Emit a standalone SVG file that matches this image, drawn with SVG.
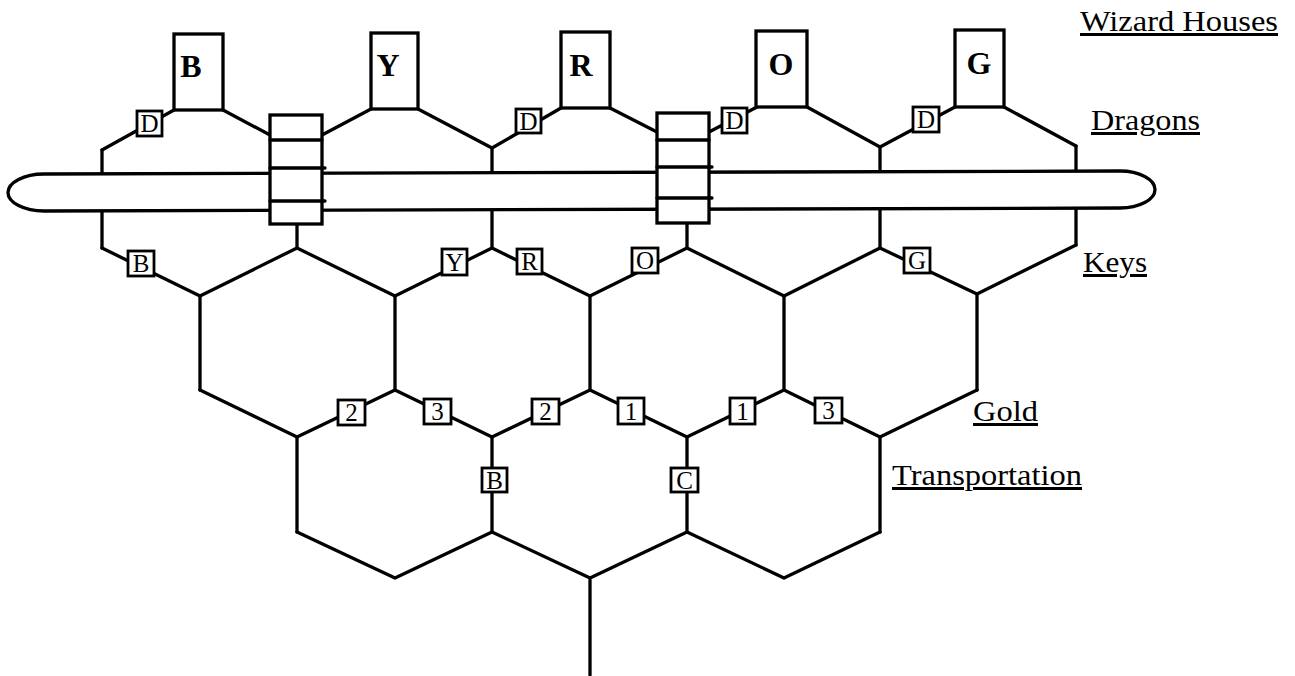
<svg xmlns="http://www.w3.org/2000/svg" width="1295" height="676" viewBox="0 0 1295 676">
<style>
.ln{stroke:#000;stroke-width:3.3;fill:none;stroke-linecap:round;stroke-linejoin:round}
.hs{fill:#fff;stroke:#000;stroke-width:3.3}
.hl{font-family:"Liberation Serif","Times New Roman",serif;font-weight:bold;font-size:32px;text-anchor:middle;fill:#000}
.kb{fill:#fff;stroke:#000;stroke-width:2.8}
.kt{font-family:"Liberation Serif","Times New Roman",serif;font-size:25px;text-anchor:middle;fill:#000}
.lb{font-family:"Liberation Serif","Times New Roman",serif;font-size:30px;fill:#000;text-decoration:underline}
.rb{fill:#fff;stroke:#000;stroke-width:3.3}
.tube{fill:#fff;stroke:#000;stroke-width:3.3}
</style>
<rect width="1295" height="676" fill="#fff"/>
<g id="connectors" class="ln">
<!-- row 1 top edges -->
<path d="M102 150 L174 110 M223 110 L270 135"/>
<path d="M322 135 L371 109 M418 109 L492 148"/>
<path d="M492 148 L561 108 M610 108 L657 132"/>
<path d="M709 132 L757 107 M807 107 L880 147"/>
<path d="M880 147 L955 107 M1004 107 L1076 146"/>
<!-- row 1 verticals -->
<path d="M102 150 L102 248 M492 148 L492 248 M880 147 L880 248 M1076 146 L1076 245 M297 222 L297 248 M687 221 L687 248"/>
<!-- row 1 bottom edges -->
<path d="M102 248 L200 296 L297 248 L395 296 L492 248 L590 296 L687 248 L784 296 L880 248 L977 294 L1076 245"/>
<!-- row 2 verticals -->
<path d="M200 296 L200 390 M395 296 L395 390 M590 296 L590 390 M784 296 L784 390 M977 294 L977 390"/>
<!-- row 2 bottom edges -->
<path d="M200 390 L297 437 L395 390 L492 437 L590 390 L687 437 L784 390 L880 437 L977 390"/>
<!-- row 3 verticals -->
<path d="M297 437 L297 532 M492 437 L492 532 M687 437 L687 532 M880 437 L880 532"/>
<!-- row 3 bottom edges and stem -->
<path d="M297 532 L395 578 L492 532 L590 578 L687 532 L784 578 L880 532 M590 578 L590 675"/>
</g>
<g id="tube">
<path class="tube" d="M44 174 L1120 171 A35 18.5 0 0 1 1120 208 L44 211 A36 18.5 0 0 1 44 174 Z"/>
</g>
<g id="ring1">
<rect class="rb" x="270" y="115" width="52" height="109"/>
<path class="ln" d="M270 140 L322 140 M270 168 L325 168 M270 201 L325 201"/>
</g>
<g id="ring2">
<rect class="rb" x="657" y="113" width="52" height="110"/>
<path class="ln" d="M657 140 L709 140 M657 167 L712 167 M657 198 L712 198"/>
</g>
<g id="house-B"><rect class="hs" x="174" y="34" width="49" height="76"/><text class="hl" x="191" y="77">B</text></g>
<g id="house-Y"><rect class="hs" x="371" y="33" width="47" height="76"/><text class="hl" x="388" y="76">Y</text></g>
<g id="house-R"><rect class="hs" x="561" y="32" width="49" height="76"/><text class="hl" x="581" y="76">R</text></g>
<g id="house-O"><rect class="hs" x="756" y="31" width="51" height="76"/><text class="hl" x="781" y="75">O</text></g>
<g id="house-G"><rect class="hs" x="955" y="30" width="49" height="77"/><text class="hl" x="979" y="74">G</text></g>
<!-- dragon boxes -->
<g id="dragon-1"><rect class="kb" x="137" y="111" width="25" height="25"/><text class="kt" x="149.5" y="132">D</text></g>
<g id="dragon-2"><rect class="kb" x="516" y="109" width="25" height="24"/><text class="kt" x="528.5" y="129.5">D</text></g>
<g id="dragon-3"><rect class="kb" x="722" y="108" width="25" height="25"/><text class="kt" x="734.5" y="129">D</text></g>
<g id="dragon-4"><rect class="kb" x="913" y="107" width="26" height="25"/><text class="kt" x="926" y="128">D</text></g>
<!-- key boxes -->
<g id="key-B"><rect class="kb" x="128" y="251" width="26" height="25"/><text class="kt" x="141" y="272">B</text></g>
<g id="key-Y"><rect class="kb" x="442" y="249" width="25" height="26"/><text class="kt" x="454.5" y="270.5">Y</text></g>
<g id="key-R"><rect class="kb" x="517" y="249" width="25" height="25"/><text class="kt" x="529.5" y="270">R</text></g>
<g id="key-O"><rect class="kb" x="632" y="248" width="26" height="25"/><text class="kt" x="645" y="269">O</text></g>
<g id="key-G"><rect class="kb" x="904" y="248" width="26" height="25"/><text class="kt" x="917" y="269">G</text></g>
<!-- gold boxes -->
<g id="gold-2a"><rect class="kb" x="338" y="400" width="27" height="25"/><text class="kt" x="351.5" y="421">2</text></g>
<g id="gold-3a"><rect class="kb" x="424" y="399" width="27" height="25"/><text class="kt" x="437.5" y="420">3</text></g>
<g id="gold-2b"><rect class="kb" x="532" y="399" width="27" height="25"/><text class="kt" x="545.5" y="420">2</text></g>
<g id="gold-1a"><rect class="kb" x="618" y="398" width="26" height="26"/><text class="kt" x="631" y="419.5">1</text></g>
<g id="gold-1b"><rect class="kb" x="730" y="398" width="25" height="26"/><text class="kt" x="742.5" y="419.5">1</text></g>
<g id="gold-3b"><rect class="kb" x="815" y="398" width="27" height="25"/><text class="kt" x="828.5" y="419">3</text></g>
<!-- transportation boxes -->
<g id="trans-B"><rect class="kb" x="482" y="468" width="25" height="24"/><text class="kt" x="494.5" y="488.5">B</text></g>
<g id="trans-C"><rect class="kb" x="671" y="468" width="27" height="24"/><text class="kt" x="684.5" y="488.5">C</text></g>
<!-- labels -->
<g id="label-wizard"><text class="lb" x="1080" y="31" textLength="198" lengthAdjust="spacingAndGlyphs">Wizard Houses</text></g>
<g id="label-dragons"><text class="lb" x="1091" y="130" textLength="109" lengthAdjust="spacingAndGlyphs">Dragons</text></g>
<g id="label-keys"><text class="lb" x="1083" y="272" textLength="64" lengthAdjust="spacingAndGlyphs">Keys</text></g>
<g id="label-gold"><text class="lb" x="973" y="421" textLength="65" lengthAdjust="spacingAndGlyphs">Gold</text></g>
<g id="label-transport"><text class="lb" x="892" y="485" textLength="190" lengthAdjust="spacingAndGlyphs">Transportation</text></g>
</svg>
